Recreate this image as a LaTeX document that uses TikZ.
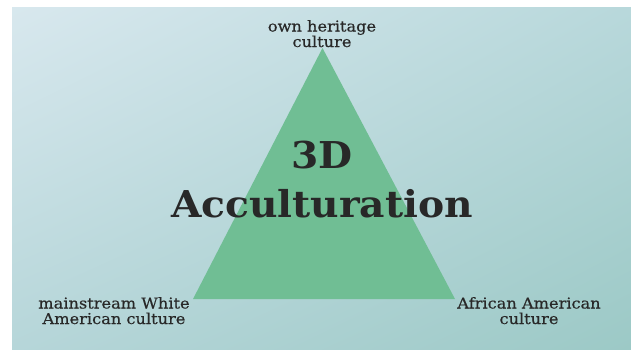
\documentclass[tikz,border=0pt]{standalone}
\usepackage{fontspec}
\setmainfont{DejaVu Serif}
\newfontfamily\labelfont[FakeStretch=1.08, FakeBold=0.4]{DejaVu Serif}
\newfontfamily\headfont[FakeStretch=1.06]{DejaVu Serif}
\usetikzlibrary{shadings}
\definecolor{bgUL}{RGB}{216,232,238}
\definecolor{bgUR}{RGB}{184,216,219}
\definecolor{bgLL}{RGB}{182,214,217}
\definecolor{bgLR}{RGB}{156,201,198}
\definecolor{triGreen}{RGB}{112,190,148}
\definecolor{inkDark}{RGB}{40,40,40}
\tikzset{
  cornerlabel/.style={align=center, inner sep=0pt, text=inkDark,
    font=\labelfont\fontsize{15}{15.5}\selectfont},
  titletext/.style={align=center, inner sep=0pt, text=inkDark,
    font=\headfont\bfseries\fontsize{37}{49}\selectfont}
}
\begin{document}
\begin{tikzpicture}[x=1pt,y=-1pt]
  % page frame and soft diagonal background
  \fill[white] (0,0) rectangle (631,349);
  \useasboundingbox (0,0) rectangle (631,349);
  \shade[upper left=bgUL, upper right=bgUR, lower left=bgLL, lower right=bgLR]
    (12,7) rectangle (631,349);

  % triangle corners
  \coordinate (apex) at (322.5,48);
  \coordinate (left) at (193,299);
  \coordinate (right) at (455,299);
  \fill[triGreen] (apex) -- (left) -- (right) -- cycle;

  % title in the middle (anchored on the baseline of its last line)
  \node[titletext, anchor=base] (title) at (322,217) {3D\\Acculturation};

  % labels at the three corners
  \node[cornerlabel, anchor=base] (heritage) at (322,47) {own heritage\\culture};
  \node[cornerlabel, anchor=base] (mainstream) at (114,324) {mainstream White\\American culture};
  \node[cornerlabel, anchor=base] (african) at (529,324) {African American\\culture};
\end{tikzpicture}
\end{document}
